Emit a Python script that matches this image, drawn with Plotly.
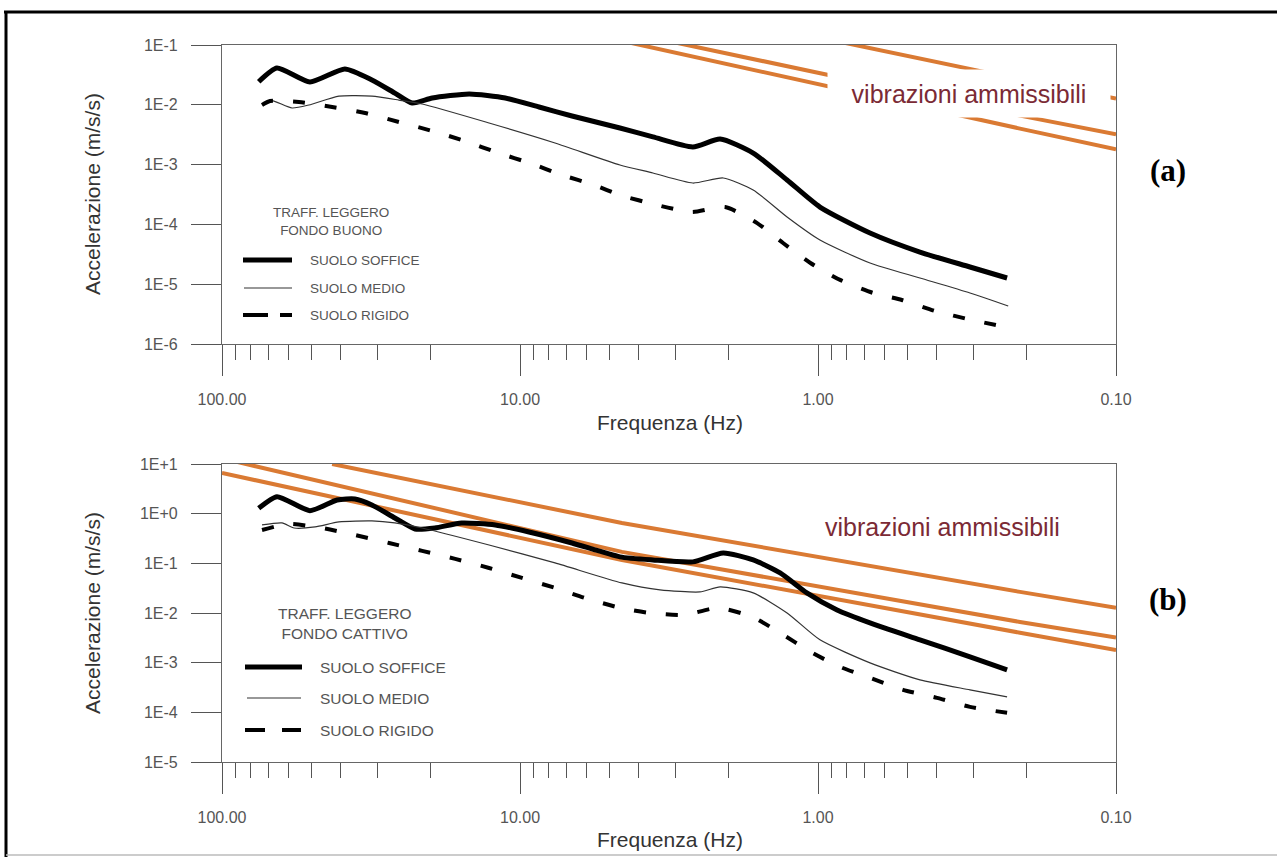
import plotly.graph_objects as go

# ---------------- data ----------------
x_tickvals = [100, 10, 1, 0.1]
x_ticktext = ["100.00", "10.00", "1.00", "0.10"]
x_minor = [90, 80, 70, 60, 50, 40, 30, 20, 9, 8, 7, 6, 5, 4, 3, 2,
           0.9, 0.8, 0.7, 0.6, 0.5, 0.4, 0.3, 0.2]
ya_tickvals = [1e-6, 1e-5, 1e-4, 1e-3, 1e-2, 1e-1]
ya_ticktext = ["1E-6", "1E-5", "1E-4", "1E-3", "1E-2", "1E-1"]
yb_tickvals = [1e-5, 1e-4, 1e-3, 1e-2, 1e-1, 1e0, 1e1]
yb_ticktext = ["1E-5", "1E-4", "1E-3", "1E-2", "1E-1", "1E+0", "1E+1"]

# permissible vibration limits (same in both panels)
lim1_f = [42.7, 4.55, 0.21, 0.1]
lim1_a = [10.0, 0.65, 0.0266, 0.0127]
lim2_f = [90, 4.55, 0.21, 0.1]
lim2_a = [11.2, 0.170, 0.0066, 0.0032]
lim3_f = [100, 4.55, 0.21, 0.1]
lim3_a = [6.6, 0.117, 0.0040, 0.0018]

# panel (a) - fondo buono
fa_soft = [75.3, 65.4, 50.7, 38.7, 31.4, 26.3, 23.0, 19.7, 14.8, 11.2, 8.63, 6.69, 4.62,
           3.58, 2.63, 2.13, 1.65, 1.27, 0.985, 0.669, 0.455, 0.309, 0.232]
aa_soft = [0.0243, 0.0412, 0.0241, 0.0397, 0.026, 0.0157, 0.0107, 0.0130, 0.0152, 0.0130,
           0.00919, 0.0065, 0.00409, 0.0029, 0.00197, 0.00268, 0.00156, 5.52e-4, 1.95e-4,
           7.18e-5, 3.45e-5, 1.94e-5, 1.27e-5]
fa_med = [73.4, 69.0, 58.2, 51.1, 40.5, 31.4, 25.5, 21.3, 12.7, 7.63, 4.62, 3.58, 2.63,
          2.08, 1.65, 1.27, 0.985, 0.669, 0.455, 0.309, 0.230]
aa_med = [0.00993, 0.0120, 0.00884, 0.00993, 0.0140, 0.0140, 0.0120, 0.0103, 0.00496,
          0.00230, 9.85e-4, 7.24e-4, 4.92e-4, 5.97e-4, 3.76e-4, 1.33e-4, 5.48e-5, 2.26e-5,
          1.27e-5, 7.13e-6, 4.32e-6]
fa_rig = [73.4, 69.0, 55.2, 42.7, 33.1, 25.5, 19.7, 15.3, 11.8, 9.26, 7.23, 5.65, 4.62,
          3.47, 2.65, 2.05, 1.60, 1.31, 1.06, 0.843, 0.653, 0.523, 0.405, 0.304, 0.234]
aa_rig = [0.00993, 0.0116, 0.0111, 0.00919, 0.00729, 0.00515, 0.00365, 0.00248, 0.00156,
          0.00106, 6.70e-4, 4.56e-4, 3.10e-4, 2.11e-4, 1.61e-4, 1.95e-4, 1.05e-4, 4.89e-5,
          2.26e-5, 1.18e-5, 7.13e-6, 5.45e-6, 3.56e-6, 2.52e-6, 1.92e-6]

# panel (b) - fondo cattivo
fb_soft = [75.3, 65.4, 50.7, 41.1, 35.8, 31.4, 26.3, 22.5, 19.3, 15.7, 12.1, 9.33, 6.69,
           4.62, 3.58, 2.63, 2.08, 1.65, 1.34, 1.09, 0.863, 0.669, 0.455, 0.309, 0.232]
ab_soft = [1.285, 2.20, 1.15, 1.89, 1.98, 1.50, 0.819, 0.492, 0.515, 0.650, 0.593, 0.428,
           0.257, 0.135, 0.117, 0.107, 0.162, 0.117, 0.0641, 0.0254, 0.0115, 0.00632,
           0.00288, 0.00131, 7.16e-4]
fb_med = [73.4, 62.9, 57.3, 48.7, 40.5, 31.4, 26.3, 21.3, 12.7, 7.63, 4.55, 3.39, 2.49,
          2.13, 1.65, 1.27, 0.985, 0.669, 0.455, 0.309, 0.232]
ab_med = [0.593, 0.650, 0.515, 0.540, 0.681, 0.713, 0.650, 0.515, 0.234, 0.102, 0.0403,
          0.0292, 0.0266, 0.0335, 0.0254, 0.0100, 0.00288, 9.9e-4, 4.5e-4, 2.84e-4, 2.05e-4]
fb_rig = [73.4, 59.6, 46.2, 35.8, 27.5, 21.3, 16.5, 12.7, 9.85, 7.63, 6.05, 4.62, 3.66,
          2.79, 2.17, 1.66, 1.34, 1.06, 0.843, 0.669, 0.519, 0.399, 0.309, 0.232]
ab_rig = [0.470, 0.621, 0.515, 0.373, 0.257, 0.178, 0.123, 0.0807, 0.0508, 0.0320, 0.0201,
          0.0127, 0.0100, 0.00916, 0.0127, 0.00835, 0.00398, 0.00165, 8.22e-4, 4.94e-4,
          2.84e-4, 1.96e-4, 1.29e-4, 9.77e-5]

series_names = ["SUOLO SOFFICE", "SUOLO MEDIO", "SUOLO RIGIDO"]
legend_titles = ["TRAFF. LEGGERO<br>FONDO BUONO", "TRAFF. LEGGERO<br>FONDO CATTIVO"]
limit_label = "vibrazioni ammissibili"
x_title = "Frequenza (Hz)"
y_title = "Accelerazione (m/s/s)"

# ---------------- figure ----------------
W, H = 1277, 857
P = lambda x: x / W          # pixel -> paper (x)
Q = lambda y: 1 - y / H      # pixel -> paper (y)

ORANGE = "#DA7A33"
SANS = "Arial, Liberation Sans, sans-serif"
TICKC = "#555555"

fig = go.Figure()

styles = [dict(color="black", width=5),
          dict(color="#333333", width=1.2),
          dict(color="black", width=4, dash="12px,20px")]

panels = [
    ("x", "y", [(fa_soft, aa_soft), (fa_med, aa_med), (fa_rig, aa_rig)]),
    ("x2", "y2", [(fb_soft, ab_soft), (fb_med, ab_med), (fb_rig, ab_rig)]),
]
for xa, ya, curves in panels:
    for lf, la in [(lim1_f, lim1_a), (lim2_f, lim2_a), (lim3_f, lim3_a)]:
        fig.add_trace(go.Scatter(x=lf, y=la, mode="lines", xaxis=xa, yaxis=ya,
                                 line=dict(color=ORANGE, width=4), hoverinfo="skip"))
    for (f, a), st, nm in zip(curves, styles, series_names):
        fig.add_trace(go.Scatter(x=f, y=a, mode="lines", name=nm, xaxis=xa, yaxis=ya,
                                 line=dict(shape="spline", smoothing=0.6, **st)))

xdom = [P(222), P(1116)]
common_x = dict(type="log", range=[2, -1], domain=xdom, tickmode="array",
                tickvals=x_tickvals, ticktext=x_ticktext, ticks="outside", ticklen=31,
                tickwidth=1.2, tickcolor=TICKC, showline=True, linecolor="#666666",
                linewidth=1.2, mirror=True, showgrid=False, zeroline=False,
                automargin=False,
                tickfont=dict(family=SANS, size=16, color=TICKC), ticklabelstandoff=10,
                minor=dict(tickvals=x_minor, ticks="outside", ticklen=15, tickwidth=1.1,
                           tickcolor=TICKC, showgrid=False))
common_y = dict(type="log", tickmode="array", ticks="outside", ticklen=30, tickwidth=1.2,
                tickcolor=TICKC, showline=True, linecolor="#666666", linewidth=1.2,
                mirror=True, showgrid=False, zeroline=False, automargin=False,
                tickfont=dict(family=SANS, size=16, color=TICKC), ticklabelstandoff=10)

fig.update_layout(
    width=W, height=H, margin=dict(l=0, r=0, t=0, b=0, pad=0), autosize=False,
    paper_bgcolor="white", plot_bgcolor="white", showlegend=False,
    xaxis=dict(anchor="y", **common_x),
    xaxis2=dict(anchor="y2", **common_x),
    yaxis=dict(anchor="x", domain=[Q(344), Q(45)], range=[-6, -1],
               tickvals=ya_tickvals, ticktext=ya_ticktext, **common_y),
    yaxis2=dict(anchor="x2", domain=[Q(762), Q(464)], range=[-5, 1],
                tickvals=yb_tickvals, ticktext=yb_ticktext, **common_y),
)

ann = []
shapes = []


def text(x, y, s, size, color="#333333", family=SANS, xanchor="center", **kw):
    ann.append(dict(x=P(x), y=Q(y), xref="paper", yref="paper", text=s, showarrow=False,
                    xanchor=xanchor, yanchor="middle",
                    font=dict(family=family, size=size, color=color), **kw))


# axis titles
for yc in (194, 613):
    text(92, yc, y_title, 21, textangle=-90)
for yc in (422, 839):
    text(670, yc, x_title, 21)
# panel labels
for txt, yc in (("(a)", 170), ("(b)", 599)):
    text(1168, yc, "<b>%s</b>" % txt, 31, color="black",
         family="Times New Roman, Liberation Serif, serif")
# limit labels (the upper one masks the limit lines behind it)
text(969, 93.5, limit_label, 25, color="#7B2A35", bgcolor="white", width=282, height=47,
     borderpad=0)
text(942, 527, limit_label, 25, color="#7B2A35")

# manual legends
leg = [
    dict(size=13.5, title=(331, 221.5), tx=308, rows=(260, 288, 315),
         thick=(243, 292), thin=(244, 292), dash=((243, 268), (280, 292)), ti=0),
    dict(size=15.5, title=(345, 623), tx=318, rows=(667, 698, 730),
         thick=(245, 302), thin=(247, 301), dash=((245, 265), (282, 301)), ti=1),
]
for L in leg:
    text(L["title"][0], L["title"][1], legend_titles[L["ti"]], L["size"], color="#555555",
         align="center")
    for nm, yr in zip(series_names, L["rows"]):
        text(L["tx"], yr, nm, L["size"], color="#555555", xanchor="left")
    r0, r1, r2 = L["rows"]
    shapes.append(dict(type="line", xref="paper", yref="paper", x0=P(L["thick"][0]),
                       x1=P(L["thick"][1]), y0=Q(r0), y1=Q(r0),
                       line=dict(color="black", width=5)))
    shapes.append(dict(type="line", xref="paper", yref="paper", x0=P(L["thin"][0]),
                       x1=P(L["thin"][1]), y0=Q(r1), y1=Q(r1),
                       line=dict(color="#333333", width=1.2)))
    for a0, a1 in L["dash"]:
        shapes.append(dict(type="line", xref="paper", yref="paper", x0=P(a0), x1=P(a1),
                           y0=Q(r2), y1=Q(r2), line=dict(color="black", width=4)))

# outer frame of the figure
shapes.append(dict(type="line", xref="paper", yref="paper", x0=P(4), x1=1, y0=Q(12),
                   y1=Q(12), line=dict(color="black", width=3)))
shapes.append(dict(type="line", xref="paper", yref="paper", x0=P(6), x1=P(6), y0=Q(11),
                   y1=0, line=dict(color="black", width=3)))
shapes.append(dict(type="line", xref="paper", yref="paper", x0=P(6), x1=1, y0=Q(855),
                   y1=Q(855), line=dict(color="#bbbbbb", width=1.5)))

fig.update_layout(annotations=ann, shapes=shapes)

fig.write_html("out.html", config={"displayModeBar": False},
               post_script="document.body.style.margin='0';")
